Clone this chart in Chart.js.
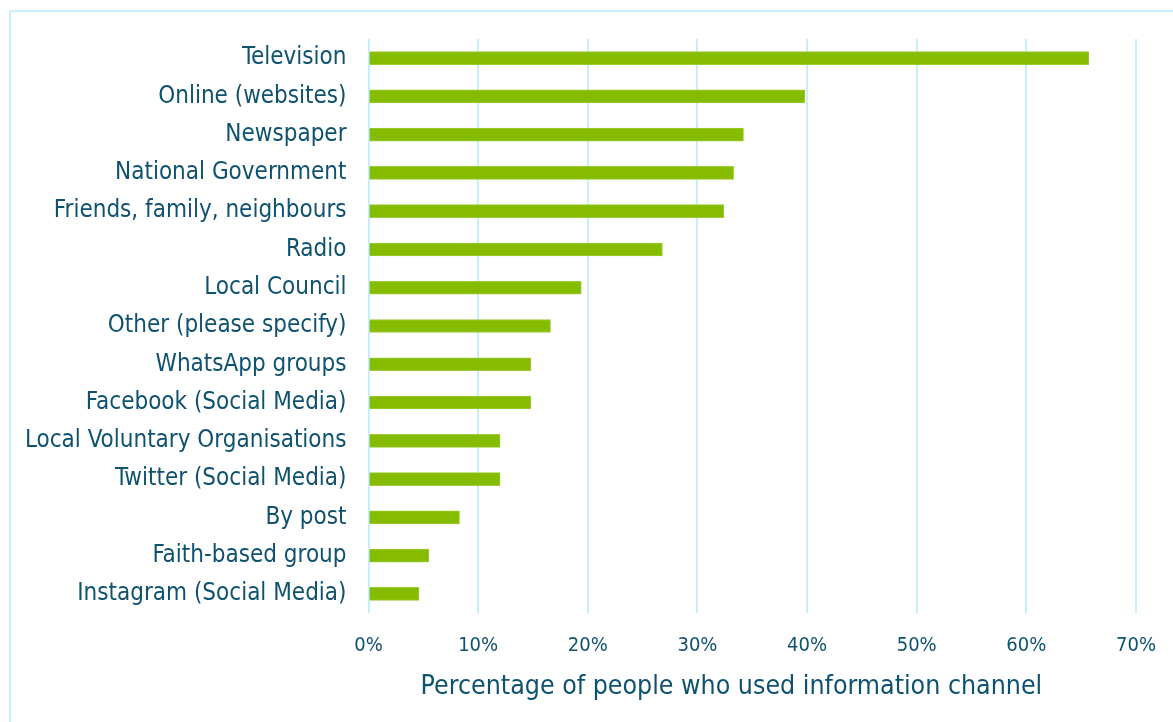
<!DOCTYPE html>
<html>
<head>
<meta charset="utf-8">
<script src="https://cdn.jsdelivr.net/npm/chart.js@4/dist/chart.umd.min.js"></script>
<style>
  html, body { margin: 0; padding: 0; background: #ffffff; overflow: hidden; }
  #frame { position: absolute; left: 9px; top: 10px; width: 1250px; height: 800px;
           border: 2px solid #c8effc; box-sizing: border-box; }
  #wrap { position: absolute; left: 0; top: 0; width: 1173px; height: 722px; }
</style>
</head>
<body>
<div id="frame"></div>
<div id="wrap"><canvas id="chart" width="1173" height="722"></canvas></div>
<script>
// Information channels, top to bottom
const channels = [
  'Television',
  'Online (websites)',
  'Newspaper',
  'National Government',
  'Friends, family, neighbours',
  'Radio',
  'Local Council',
  'Other (please specify)',
  'WhatsApp groups',
  'Facebook (Social Media)',
  'Local Voluntary Organisations',
  'Twitter (Social Media)',
  'By post',
  'Faith-based group',
  'Instagram (Social Media)'
];

// Share of respondents using each channel (%)
const usage = [65.7, 39.8, 34.2, 33.3, 32.4, 26.8, 19.4, 16.6, 14.8, 14.8, 12.0, 12.0, 8.3, 5.5, 4.6];

// Axis tick values (%)
const tickValues = [0, 10, 20, 30, 40, 50, 60, 70];

const axisTitle = 'Percentage of people who used information channel';

const textColor = '#0f5270';
const gridColor = '#c8eefb';
const fontFamily = '"DejaVu Sans Condensed", "DejaVu Sans", sans-serif';

// Value-axis title, centred a little left of the plot centre, below the tick labels
const axisTitlePlugin = {
  id: 'axisTitle',
  afterDraw(chart) {
    const { ctx, scales } = chart;
    const x = scales.x.getPixelForValue(33.1);
    ctx.save();
    ctx.font = '26.5px ' + fontFamily;
    ctx.fillStyle = textColor;
    ctx.textAlign = 'center';
    ctx.textBaseline = 'middle';
    ctx.fillText(axisTitle, x, chart.height - 35);
    ctx.restore();
  }
};

new Chart(document.getElementById('chart'), {
  type: 'bar',
  data: {
    labels: channels,
    datasets: [{
      data: usage,
      backgroundColor: '#86bc00',
      borderColor: '#9ccb33',
      borderWidth: 1,
      borderSkipped: 'start',
      barThickness: 13
    }]
  },
  options: {
    indexAxis: 'y',
    responsive: false,
    animation: false,
    layout: { padding: { top: 39, left: 0, right: 37, bottom: 0 } },
    plugins: { legend: { display: false }, tooltip: { enabled: false } },
    scales: {
      x: {
        min: 0,
        max: 70,
        afterBuildTicks: (scale) => { scale.ticks = tickValues.map(v => ({ value: v })); },
        afterFit: (scale) => {
          scale.height = 109;
          scale.paddingLeft = 0;
          scale.paddingRight = 0;
        },
        grid: { color: gridColor, lineWidth: 2, drawTicks: false },
        border: { display: false },
        ticks: {
          color: textColor,
          font: { family: fontFamily, size: 20 },
          padding: 21,
          callback: (v) => v + '%'
        }
      },
      y: {
        grid: { display: false, drawTicks: false },
        border: { display: false },
        afterFit: (scale) => { scale.width = 368.5; },
        ticks: {
          color: textColor,
          font: { family: fontFamily, size: 24 },
          padding: 22
        }
      }
    }
  },
  plugins: [axisTitlePlugin]
});
</script>
</body>
</html>
